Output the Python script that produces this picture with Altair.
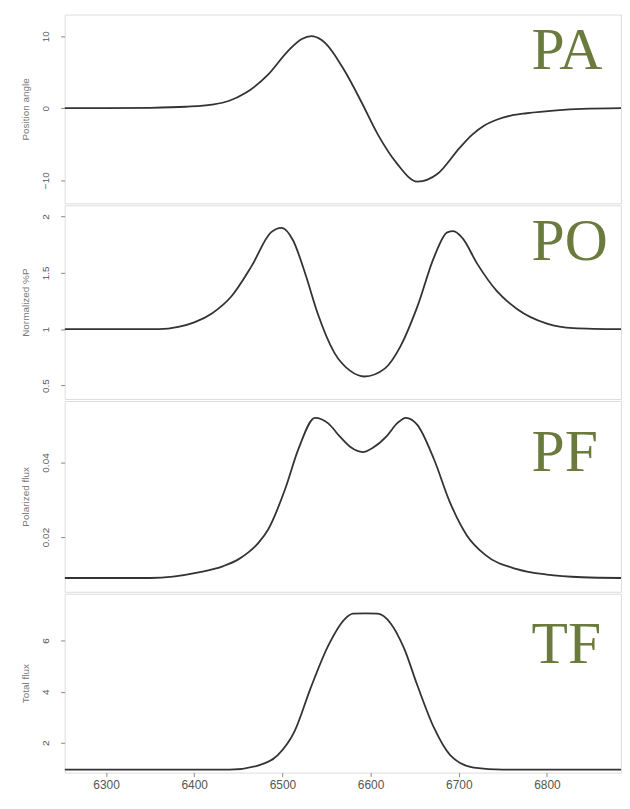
import altair as alt
import pandas as pd

# ---- data ----
pa_wave = [6253, 6300, 6350, 6390, 6420, 6439, 6458, 6484, 6506, 6522, 6533, 6544, 6571, 6589, 6608, 6630, 6653, 6676, 6701, 6715, 6729, 6743, 6760, 6777, 6811, 6840, 6884]
pa_val = [0, 0, 0.05, 0.2, 0.5, 1.0, 2.1, 4.7, 7.9, 9.6, 10.0, 9.5, 5.1, 1.0, -3.6, -7.7, -10.2, -9.1, -5.5, -3.7, -2.4, -1.6, -1.0, -0.7, -0.3, -0.1, 0]

po_wave = [6253, 6330, 6360, 6382, 6400, 6420, 6442, 6465, 6487, 6499, 6512, 6526, 6540, 6559, 6577, 6593, 6616, 6634, 6653, 6672, 6687, 6694, 6704, 6721, 6743, 6766, 6800, 6830, 6884]
po_val = [1.0, 1.0, 1.0, 1.02, 1.06, 1.14, 1.29, 1.56, 1.86, 1.90, 1.79, 1.49, 1.14, 0.79, 0.63, 0.58, 0.65, 0.85, 1.20, 1.64, 1.86, 1.87, 1.81, 1.58, 1.34, 1.18, 1.05, 1.01, 1.0]

pf_wave = [6253, 6350, 6405, 6433, 6450, 6461, 6473, 6484, 6503, 6518, 6537, 6552, 6565, 6578, 6591, 6603, 6618, 6630, 6640, 6653, 6672, 6690, 6709, 6730, 6766, 6800, 6840, 6884]
pf_val = [0.009, 0.009, 0.0105, 0.0122, 0.0140, 0.0158, 0.0185, 0.0221, 0.0328, 0.0435, 0.052, 0.0505, 0.0470, 0.0440, 0.0428, 0.0440, 0.0470, 0.0505, 0.052, 0.0501, 0.0408, 0.0293, 0.0205, 0.0152, 0.0114, 0.0099, 0.0092, 0.009]

tf_wave = [6253, 6440, 6473, 6495, 6514, 6532, 6552, 6571, 6580, 6594, 6608, 6623, 6638, 6653, 6672, 6690, 6717, 6750, 6884]
tf_val = [0.95, 0.95, 1.12, 1.53, 2.47, 4.14, 5.8, 6.85, 7.05, 7.06, 7.05, 6.66, 5.69, 4.25, 2.58, 1.53, 1.03, 0.95, 0.95]

x_ticks = [6300, 6400, 6500, 6600, 6700, 6800]
x_domain = [6253, 6884]

panels = [
    ("PA", "Position angle", pa_wave, pa_val, [-13.2, 13.0], [-10, 0, 10], "d", 190, 55),
    ("PO", "Normalized %P", po_wave, po_val, [0.38, 2.1], [0.5, 1, 1.5, 2], "~g", 195, 55),
    ("PF", "Polarized flux", pf_wave, pf_val, [0.0053, 0.0565], [0.02, 0.04], ".2f", 192, 70),
    ("TF", "Total flux", tf_wave, tf_val, [0.835, 7.83], [2, 4, 6], "d", 180, 70),
]

W = 560
charts = []
for i, (lab, title, wv, vals, ydom, yticks, yfmt, h, tb) in enumerate(panels):
    df = pd.DataFrame({"wave": wv, "val": vals})
    last = i == len(panels) - 1
    xaxis = alt.Axis(values=x_ticks, format="d", title=None, grid=False,
                     labelFontSize=12, labelColor="#555", tickColor="#888",
                     tickSize=4, labelPadding=3, domain=False) if last else None
    line = alt.Chart(df).mark_line(color="#333", strokeWidth=1.8, interpolate="monotone", clip=True).encode(
        x=alt.X("wave:Q", scale=alt.Scale(domain=x_domain, nice=False, zero=False), axis=xaxis),
        y=alt.Y("val:Q", scale=alt.Scale(domain=ydom, nice=False, zero=False),
                axis=alt.Axis(values=yticks, format=yfmt, title=title, grid=False,
                              labelAngle=-90, labelAlign="center", labelBaseline="bottom",
                              labelFontSize=10, labelColor="#555", titleFontSize=10,
                              titleColor="#777", titleFontWeight="normal",
                              tickColor="#888", tickSize=4, labelPadding=10,
                              titlePadding=10, domain=False)),
    )
    txt = alt.Chart(pd.DataFrame({"t": [lab]})).mark_text(
        font="Liberation Serif", fontSize=60, color="#6b7b3e", align="left", baseline="alphabetic"
    ).encode(x=alt.value(470), y=alt.value(tb), text="t:N")
    charts.append(alt.layer(line, txt).properties(width=W, height=h))

chart = alt.vconcat(*charts, spacing=0).properties(
    padding={"left": 12, "top": 3, "right": 0, "bottom": 5}
).configure_view(
    stroke="#888", strokeWidth=1.5
).configure(background="white")

chart.save("out.html", embed_options={"renderer": "svg", "actions": False})
